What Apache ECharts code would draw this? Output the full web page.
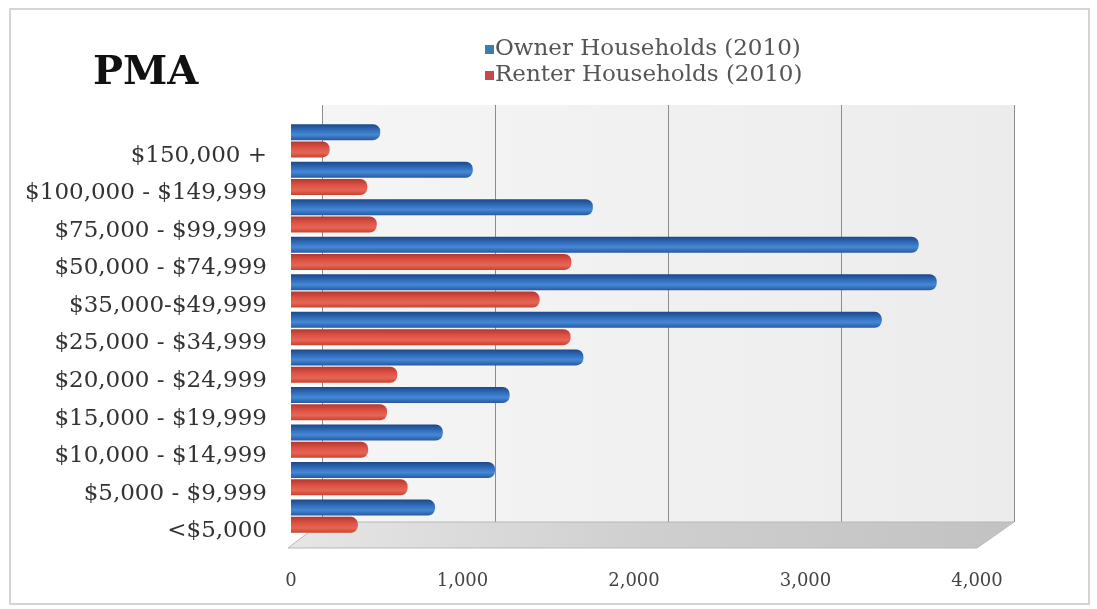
<!DOCTYPE html>
<html>
<head>
<meta charset="utf-8">
<title>PMA</title>
<script src="https://cdn.jsdelivr.net/npm/echarts@6/dist/echarts.min.js"></script>
<style>
  html, body { margin: 0; padding: 0; background: #ffffff; }
  #chart { width: 1097px; height: 609px; }
  #frame { position: absolute; left: 9px; top: 8px; width: 1077px; height: 593px;
           border: 2px solid #d4d4d4; pointer-events: none; }
</style>
</head>
<body>
<div id="chart"></div>
<div id="frame"></div>
<script>
// Household income bands, listed bottom to top
const categories = [
  '<$5,000', '$5,000 - $9,999', '$10,000 - $14,999', '$15,000 - $19,999',
  '$20,000 - $24,999', '$25,000 - $34,999', '$35,000-$49,999',
  '$50,000 - $74,999', '$75,000 - $99,999', '$100,000 - $149,999', '$150,000 +'
];
const ownerHouseholds = [840, 1190, 885, 1275, 1705, 3445, 3765, 3660, 1760, 1060, 520];
const renterHouseholds = [390, 680, 450, 560, 620, 1630, 1450, 1635, 500, 445, 225];
const valueTicks = [0, 1000, 2000, 3000, 4000];
const seriesNames = ['Owner Households (2010)', 'Renter Households (2010)'];

const chart = echarts.init(document.getElementById('chart'), null, { renderer: 'canvas' });
const serif = 'DejaVu Serif';
const G = echarts.graphic.LinearGradient;
const axisMin = valueTicks[0];
const axisMax = valueTicks[valueTicks.length - 1];
const step = valueTicks[1] - valueTicks[0];

const ownerFill = new G(0, 0, 0, 1, [
  { offset: 0, color: '#1c4886' },
  { offset: 0.35, color: '#2f6bb9' },
  { offset: 0.65, color: '#4688d6' },
  { offset: 1, color: '#27599e' }
]);
const renterFill = new G(0, 0, 0, 1, [
  { offset: 0, color: '#b5362c' },
  { offset: 0.4, color: '#de5345' },
  { offset: 0.7, color: '#e56656' },
  { offset: 1, color: '#c9412f' }
]);

const fmt = v => v.toLocaleString('en-US');
const hidden = { show: false };

chart.setOption({
  animation: false,
  backgroundColor: '#ffffff',
  title: {
    text: 'PMA',
    left: 88, top: 49,
    textStyle: { fontFamily: serif, fontWeight: 'bold', fontSize: 40, color: '#111' }
  },
  legend: {
    orient: 'vertical',
    left: 480, top: 33,
    itemWidth: 9, itemHeight: 9, itemGap: 3,
    icon: 'rect',
    data: [
      { name: seriesNames[0], itemStyle: { color: '#3a7fa8' } },
      { name: seriesNames[1], itemStyle: { color: '#c4484c' } }
    ],
    textStyle: { fontFamily: serif, fontSize: 23, color: '#555', padding: [0, 0, 0, -4] }
  },
  graphic: [{
    // chart floor
    type: 'polygon', z: 1, silent: true,
    shape: { points: [[288, 548], [977, 548], [1014, 522], [322, 522]] },
    style: {
      fill: new G(0, 0, 1, 0, [
        { offset: 0, color: '#e6e6e6' },
        { offset: 0.5, color: '#cfcfcf' },
        { offset: 1, color: '#c2c2c2' }
      ]),
      stroke: '#b8b8b8', lineWidth: 1
    }
  }],
  grid: [
    { // back wall
      left: 322, right: 83, top: 105, bottom: 87,
      show: true, borderWidth: 0, z: 0,
      backgroundColor: new G(0, 0, 1, 0, [
        { offset: 0, color: '#f5f5f5' },
        { offset: 1, color: '#ececec' }
      ])
    },
    { // bars
      left: 291, right: 120, top: 122, bottom: 74, z: 3
    },
    { // category labels, set along the front edge
      left: 291, right: 120, top: 137, bottom: 59, z: 3
    }
  ],
  xAxis: [
    {
      gridIndex: 0, type: 'value', min: axisMin, max: axisMax, interval: step,
      axisLabel: hidden, axisTick: hidden, axisLine: hidden,
      splitLine: { show: true, lineStyle: { color: '#8c8c8c', width: 1 } }
    },
    {
      gridIndex: 1, type: 'value', min: axisMin, max: axisMax, interval: step,
      axisLine: hidden, axisTick: hidden, splitLine: hidden,
      axisLabel: {
        margin: 37, fontFamily: serif, fontSize: 18, color: '#444',
        formatter: v => fmt(v)
      }
    },
    {
      gridIndex: 2, type: 'value', min: axisMin, max: axisMax, show: false
    }
  ],
  yAxis: [
    { gridIndex: 0, type: 'value', show: false },
    {
      gridIndex: 1, type: 'category', data: categories,
      axisLine: hidden, axisTick: hidden, splitLine: hidden, axisLabel: hidden
    },
    {
      gridIndex: 2, type: 'category', data: categories,
      axisLine: hidden, axisTick: hidden, splitLine: hidden,
      axisLabel: { margin: 24, fontFamily: serif, fontSize: 23, color: '#333' }
    }
  ],
  series: [
    {
      name: seriesNames[0], type: 'bar', xAxisIndex: 1, yAxisIndex: 1, z: 5,
      data: ownerHouseholds, barWidth: 16, barGap: '8%',
      itemStyle: { color: ownerFill, borderRadius: [0, 7, 7, 0] }
    },
    {
      name: seriesNames[1], type: 'bar', xAxisIndex: 1, yAxisIndex: 1, z: 5,
      data: renterHouseholds, barWidth: 16,
      itemStyle: { color: renterFill, borderRadius: [0, 7, 7, 0] }
    }
  ]
});
</script>
</body>
</html>
